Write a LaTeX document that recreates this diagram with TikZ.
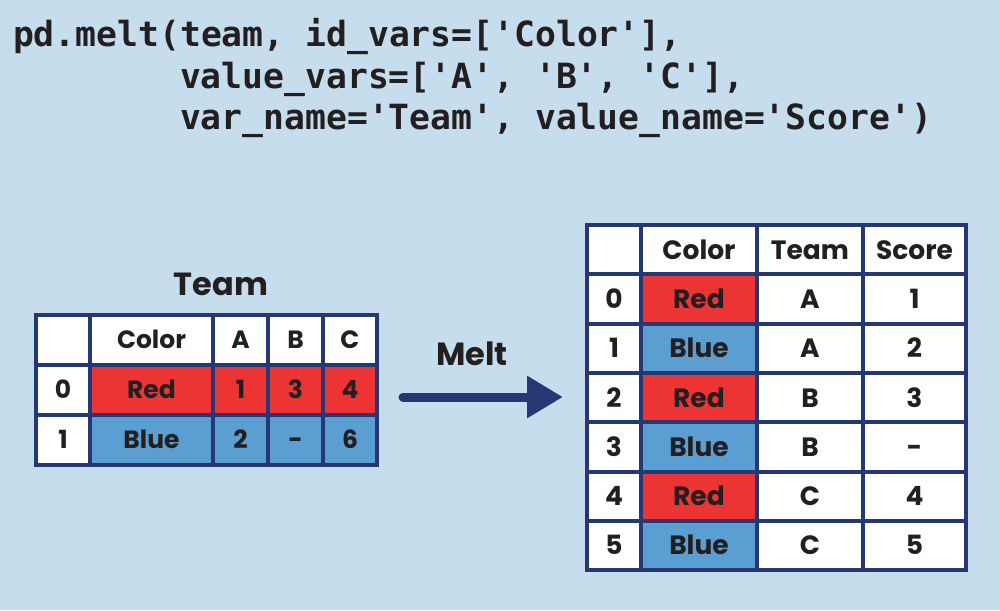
\documentclass[tikz,border=0pt]{standalone}
\usepackage{fontspec}
\setmainfont{Poppins}
\newfontfamily\codefont{DejaVu Sans Mono}
\usetikzlibrary{positioning,arrows.meta}

\definecolor{bgblue}{HTML}{C6DDEE}
\definecolor{navy}{HTML}{263873}
\definecolor{cellred}{HTML}{EC3434}
\definecolor{cellblue}{HTML}{5B9ED2}
\definecolor{ink}{HTML}{231F20}

\begin{document}
\begin{tikzpicture}[
        x=1pt, y=-1pt,
        every node/.style = {text=ink, inner sep=0pt, outer sep=0pt},
        code/.style = {anchor=base west,
                       font=\codefont\bfseries\fontsize{34.7}{40}\selectfont},
        title/.style = {anchor=base, font=\bfseries\fontsize{32}{38}\selectfont},
        cell/.style = {shape=rectangle, draw=navy, line width=4pt, fill=white,
                       minimum height=50pt, text height=17pt, text depth=0pt,
                       font=\bfseries\fontsize{25}{30}\selectfont},
        bigcell/.style = {cell, minimum height=49.3pt, text height=19pt,
                          font=\bfseries\fontsize{26.5}{32}\selectfont},
        redfill/.style = {fill=cellred},
        bluefill/.style = {fill=cellblue}]
    \fill[bgblue] (0,0) rectangle (1000,610);

    % code
    \node[code] (line1) at (13,47)  {pd.melt(team, id\_vars=['Color'],};
    \node[code] (line2) at (180,88) {value\_vars=['A', 'B', 'C'],};
    \node[code] (line3) at (180,129) {var\_name='Team', value\_name='Score')};

    % left table
    \node[title] (tlabel) at (221,295) {Team};
    \node[cell, minimum width=54pt, anchor=north west] (h0) at (36,315) {};
    \node[cell, minimum width=123pt, right=0pt of h0] (h1) {Color};
    \node[cell, minimum width=55pt, right=0pt of h1] (h2) {A};
    \node[cell, minimum width=55pt, right=0pt of h2] (h3) {B};
    \node[cell, minimum width=54pt, right=0pt of h3] (h4) {C};

    \node[cell, minimum width=54pt, below=0pt of h0] (a0) {0};
    \node[cell, redfill, minimum width=123pt, right=0pt of a0] (a1) {Red};
    \node[cell, redfill, minimum width=55pt, right=0pt of a1] (a2) {1};
    \node[cell, redfill, minimum width=55pt, right=0pt of a2] (a3) {3};
    \node[cell, redfill, minimum width=54pt, right=0pt of a3] (a4) {4};

    \node[cell, minimum width=54pt, below=0pt of a0] (b0) {1};
    \node[cell, bluefill, minimum width=123pt, right=0pt of b0] (b1) {Blue};
    \node[cell, bluefill, minimum width=55pt, right=0pt of b1] (b2) {2};
    \node[cell, bluefill, minimum width=55pt, right=0pt of b2] (b3) {-};
    \node[cell, bluefill, minimum width=54pt, right=0pt of b3] (b4) {6};

    % arrow
    \node[title] (mlabel) at (472,365) {Melt};
    \coordinate (mtail) at (403,397);
    \coordinate (mtip) at (563,397);
    \draw[navy, line width=9pt, line cap=round,
          -{Triangle[length=36pt, width=40pt]}] (mtail) -- (mtip);

    % right table
    \node[bigcell, minimum width=54pt, anchor=north west] (rh0) at (587,225) {};
    \node[bigcell, minimum width=116pt, right=0pt of rh0] (rh1) {Color};
    \node[bigcell, minimum width=106pt, right=0pt of rh1] (rh2) {Team};
    \node[bigcell, minimum width=103pt, right=0pt of rh2] (rh3) {Score};

    \node[bigcell, minimum width=54pt, below=0pt of rh0] (r00) {0};
    \node[bigcell, redfill, minimum width=116pt, right=0pt of r00] (r01) {Red};
    \node[bigcell, minimum width=106pt, right=0pt of r01] (r02) {A};
    \node[bigcell, minimum width=103pt, right=0pt of r02] (r03) {1};

    \node[bigcell, minimum width=54pt, below=0pt of r00] (r10) {1};
    \node[bigcell, bluefill, minimum width=116pt, right=0pt of r10] (r11) {Blue};
    \node[bigcell, minimum width=106pt, right=0pt of r11] (r12) {A};
    \node[bigcell, minimum width=103pt, right=0pt of r12] (r13) {2};

    \node[bigcell, minimum width=54pt, below=0pt of r10] (r20) {2};
    \node[bigcell, redfill, minimum width=116pt, right=0pt of r20] (r21) {Red};
    \node[bigcell, minimum width=106pt, right=0pt of r21] (r22) {B};
    \node[bigcell, minimum width=103pt, right=0pt of r22] (r23) {3};

    \node[bigcell, minimum width=54pt, below=0pt of r20] (r30) {3};
    \node[bigcell, bluefill, minimum width=116pt, right=0pt of r30] (r31) {Blue};
    \node[bigcell, minimum width=106pt, right=0pt of r31] (r32) {B};
    \node[bigcell, minimum width=103pt, right=0pt of r32] (r33) {-};

    \node[bigcell, minimum width=54pt, below=0pt of r30] (r40) {4};
    \node[bigcell, redfill, minimum width=116pt, right=0pt of r40] (r41) {Red};
    \node[bigcell, minimum width=106pt, right=0pt of r41] (r42) {C};
    \node[bigcell, minimum width=103pt, right=0pt of r42] (r43) {4};

    \node[bigcell, minimum width=54pt, below=0pt of r40] (r50) {5};
    \node[bigcell, bluefill, minimum width=116pt, right=0pt of r50] (r51) {Blue};
    \node[bigcell, minimum width=106pt, right=0pt of r51] (r52) {C};
    \node[bigcell, minimum width=103pt, right=0pt of r52] (r53) {5};
\end{tikzpicture}
\end{document}
